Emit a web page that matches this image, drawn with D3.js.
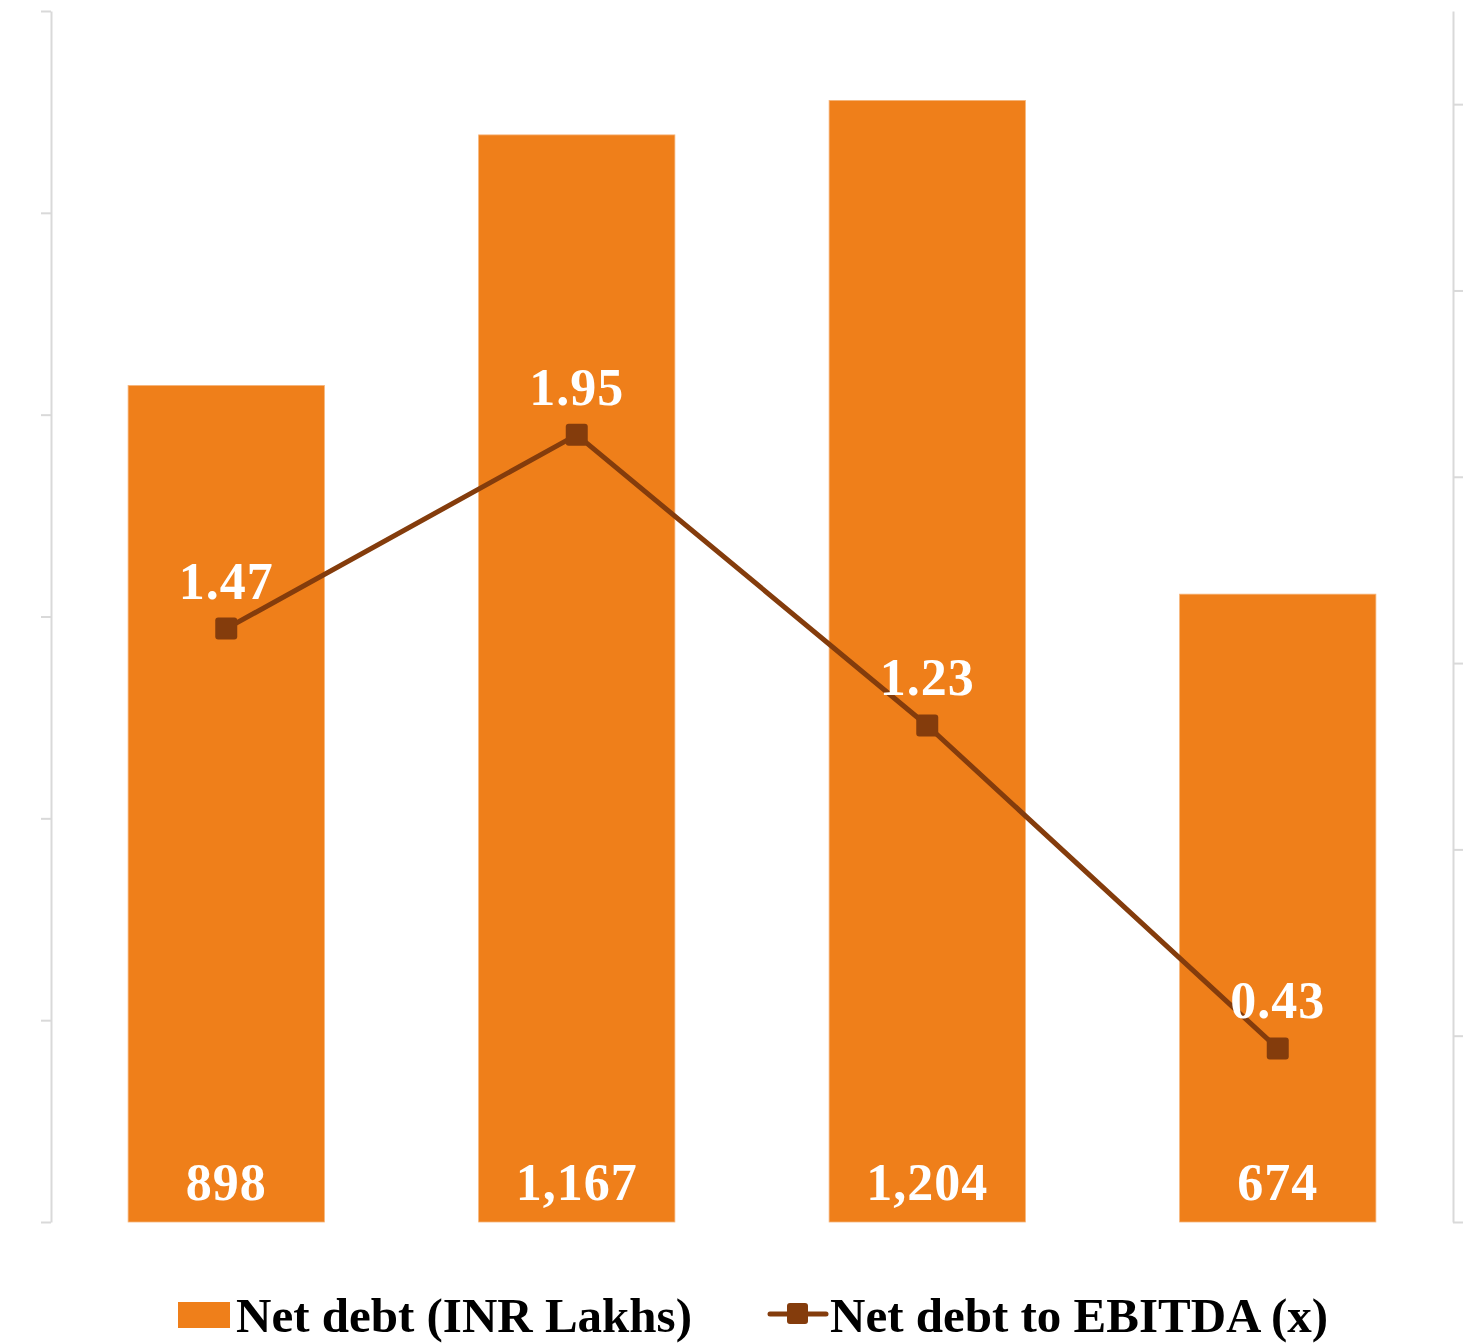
<!DOCTYPE html>
<html>
<head>
<meta charset="utf-8">
<script src="https://cdn.jsdelivr.net/npm/d3@7"></script>
<style>
  html, body { margin: 0; padding: 0; background: #ffffff; }
  svg { display: block; }
  .lbl { font-family: "Liberation Serif", "Times New Roman", serif; font-weight: bold; }
</style>
</head>
<body>
<svg id="chart" width="1477" height="1343"></svg>
<script>
// Periods shown along the (unlabelled) category axis
const categories = ["Period 1", "Period 2", "Period 3", "Period 4"];
// Net debt, INR Lakhs (bars)
const netDebt = [898, 1167, 1204, 674];
// Net debt to EBITDA, times (line)
const debtToEbitda = [1.47, 1.95, 1.23, 0.43];
// Legend entries
const legendLabels = ["Net debt (INR Lakhs)", "Net debt to EBITDA (x)"];

const svg = d3.select("#chart");
const margin = { top: 11, right: 24, bottom: 121, left: 51 };
const W = 1477, H = 1343;
const innerLeft = margin.left, innerRight = W - margin.right;
const innerTop = margin.top, innerBottom = H - margin.bottom;

const barColor = "#EF7F1A";
const lineColor = "#843C0C";
const axisColor = "#d9d9d9";

const x = d3.scaleBand()
  .domain(categories)
  .range([innerLeft, innerRight])
  .paddingInner(0.44)
  .paddingOuter(0.22);

const yLeft = d3.scaleLinear().domain([0, 1300]).range([innerBottom, innerTop]);
const yRight = d3.scaleLinear().domain([0, 3]).range([innerBottom, innerTop]);

// Left axis: ticks without labels
const leftTicks = d3.range(0, 7).map(i => i * 1300 / 6);
const gl = svg.append("g")
  .attr("transform", `translate(${innerLeft},0)`)
  .call(d3.axisLeft(yLeft).tickValues(leftTicks).tickSize(10).tickSizeOuter(0).tickFormat(""));
gl.selectAll("path, line").attr("stroke", axisColor).attr("stroke-width", 2);

// Right axis: ticks without labels
const rightTicks = d3.range(0, 7).map(i => i * 3 / 6.5);
const gr = svg.append("g")
  .attr("transform", `translate(${innerRight},0)`)
  .call(d3.axisRight(yRight).tickValues(rightTicks).tickSize(10).tickSizeOuter(0).tickFormat(""));
gr.selectAll("path, line").attr("stroke", axisColor).attr("stroke-width", 2);

// Bars
svg.append("g").selectAll("rect")
  .data(netDebt)
  .join("rect")
  .attr("x", (d, i) => x(categories[i]))
  .attr("y", d => yLeft(d))
  .attr("width", x.bandwidth())
  .attr("height", d => yLeft(0) - yLeft(d))
  .attr("fill", barColor)
  .attr("stroke", "#f6b57a")
  .attr("stroke-width", 0.8);

// Bar value labels near the base
const fmt = d3.format(",");
svg.append("g").selectAll("text")
  .data(netDebt)
  .join("text")
  .attr("class", "lbl")
  .attr("x", (d, i) => x(categories[i]) + x.bandwidth() / 2)
  .attr("y", yLeft(0) - 22)
  .attr("text-anchor", "middle")
  .attr("font-size", 52)
  .attr("letter-spacing", 1)
  .attr("fill", "#ffffff")
  .text(d => fmt(d));

// Line
const cx = i => x(categories[i]) + x.bandwidth() / 2;
const line = d3.line().x((d, i) => cx(i)).y(d => yRight(d));
svg.append("path")
  .datum(debtToEbitda)
  .attr("d", line)
  .attr("fill", "none")
  .attr("stroke", lineColor)
  .attr("stroke-width", 5)
  .attr("stroke-linejoin", "round");

// Square markers
svg.append("g").selectAll("rect")
  .data(debtToEbitda)
  .join("rect")
  .attr("x", (d, i) => cx(i) - 11)
  .attr("y", d => yRight(d) - 11)
  .attr("width", 22)
  .attr("height", 22)
  .attr("rx", 3)
  .attr("fill", lineColor);

// Line value labels above markers
svg.append("g").selectAll("text")
  .data(debtToEbitda)
  .join("text")
  .attr("class", "lbl")
  .attr("x", (d, i) => cx(i))
  .attr("y", d => yRight(d) - 30)
  .attr("text-anchor", "middle")
  .attr("font-size", 52)
  .attr("letter-spacing", 1)
  .attr("fill", "#ffffff")
  .text(d => d.toFixed(2));

// Legend
const legY = 1332;
const leg = svg.append("g");
leg.append("rect")
  .attr("x", 178).attr("y", 1302).attr("width", 52).attr("height", 26)
  .attr("fill", barColor);
leg.append("text")
  .attr("class", "lbl")
  .attr("x", 236).attr("y", legY)
  .attr("font-size", 49)
  .attr("fill", "#000000")
  .text(legendLabels[0]);

leg.append("line")
  .attr("x1", 770).attr("x2", 826).attr("y1", 1314).attr("y2", 1314)
  .attr("stroke", lineColor).attr("stroke-width", 5).attr("stroke-linecap", "round");
leg.append("rect")
  .attr("x", 787).attr("y", 1303).attr("width", 21).attr("height", 21).attr("rx", 3)
  .attr("fill", lineColor);
leg.append("text")
  .attr("class", "lbl")
  .attr("x", 830).attr("y", legY)
  .attr("font-size", 49)
  .attr("fill", "#000000")
  .text(legendLabels[1]);
</script>
</body>
</html>
